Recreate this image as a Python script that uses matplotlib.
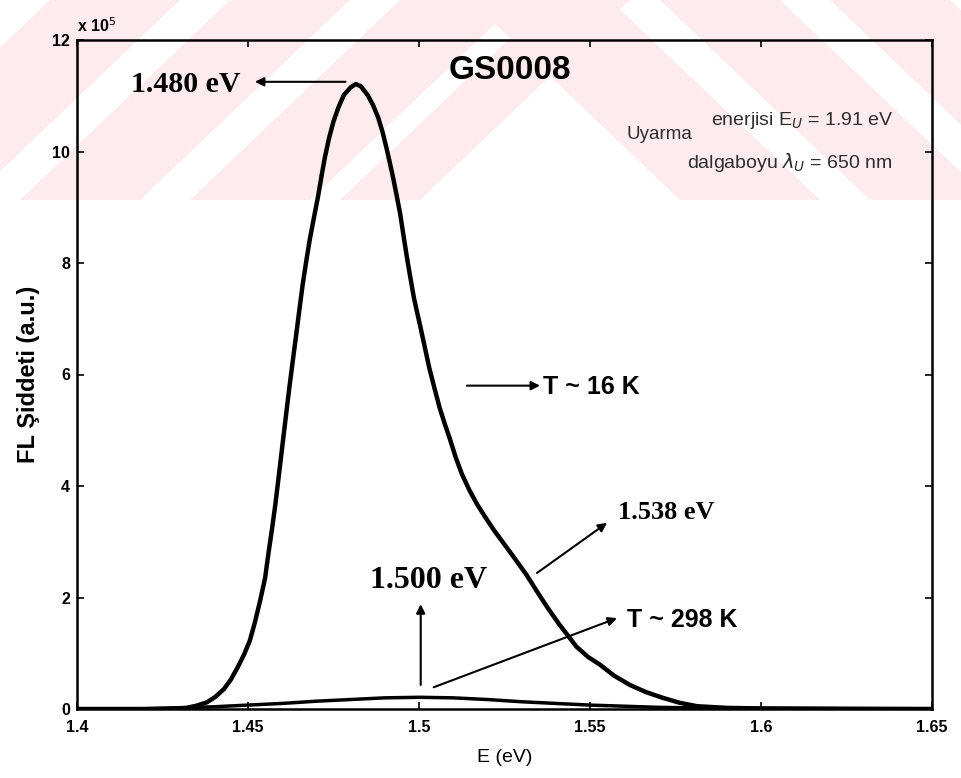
import matplotlib
matplotlib.use("Agg")
import matplotlib.pyplot as plt
from matplotlib.patches import Polygon

# --- data (intensity in units of 1e5) ---
E_16K = [1.400, 1.420, 1.426, 1.432, 1.435, 1.438, 1.4405, 1.443, 1.445,
         1.447, 1.4488, 1.4505, 1.452, 1.4535, 1.455, 1.456, 1.457, 1.458,
         1.459, 1.460, 1.461, 1.462, 1.463, 1.464, 1.465, 1.466, 1.467,
         1.468, 1.4693, 1.4705, 1.4715, 1.4725, 1.4737, 1.475, 1.4765,
         1.478, 1.480, 1.4815, 1.483, 1.485, 1.4865, 1.488, 1.4893, 1.4905,
         1.4915, 1.4925, 1.4935, 1.4945, 1.4955, 1.4965, 1.4975, 1.4985,
         1.4995, 1.5005, 1.5018, 1.503, 1.5045, 1.506, 1.5075, 1.509,
         1.5107, 1.5125, 1.5147, 1.517, 1.5195, 1.522, 1.525, 1.528,
         1.5315, 1.535, 1.538, 1.541, 1.5435, 1.546, 1.5495, 1.5528,
         1.557, 1.5617, 1.5665, 1.5713, 1.5763, 1.5813, 1.590, 1.600, 1.650]
I_16K = [0.0, 0.0, 0.005, 0.02, 0.06, 0.12, 0.22, 0.36, 0.53,
         0.75, 0.97, 1.22, 1.55, 1.93, 2.35, 2.80, 3.22, 3.67,
         4.18, 4.70, 5.21, 5.72, 6.20, 6.67, 7.15, 7.62, 8.02,
         8.40, 8.82, 9.20, 9.56, 9.90, 10.24, 10.54, 10.80,
         11.01, 11.15, 11.21, 11.17, 11.01, 10.84, 10.62, 10.36, 10.06,
         9.79, 9.51, 9.20, 8.88, 8.48, 8.09, 7.73, 7.38,
         7.10, 6.83, 6.46, 6.12, 5.76, 5.41, 5.12, 4.85,
         4.52, 4.22, 3.93, 3.67, 3.43, 3.20, 2.95, 2.70,
         2.40, 2.06, 1.78, 1.52, 1.32, 1.12, 0.93, 0.80,
         0.60, 0.43, 0.30, 0.20, 0.11, 0.05, 0.02, 0.01, 0.0]

E_298K = [1.40, 1.42, 1.43, 1.44, 1.45, 1.46, 1.47, 1.48, 1.49, 1.50,
          1.51, 1.52, 1.53, 1.54, 1.55, 1.56, 1.57, 1.58, 1.60, 1.65]
I_298K = [0.0, 0.005, 0.02, 0.04, 0.07, 0.10, 0.14, 0.17, 0.20, 0.21,
          0.20, 0.17, 0.13, 0.10, 0.07, 0.05, 0.03, 0.02, 0.01, 0.0]

xticks = [1.4, 1.45, 1.5, 1.55, 1.6, 1.65]
xtick_labels = ["1.4", "1.45", "1.5", "1.55", "1.6", "1.65"]
yticks = [0, 2, 4, 6, 8, 10, 12]

serif = "Liberation Serif"
sans = "Liberation Sans"

fig = plt.figure(figsize=(9.62, 7.78), dpi=100)
W, H = 962, 778

# pale pink watermark band at the top (scan artefact)
pink = "#fdebee"
def px(pts):
    return [(x / W, 1 - y / H) for x, y in pts]
for a, b in [(-160, -30), (20, 140), (190, 310), (340, 420)]:
    fig.add_artist(Polygon(px([(a, 200), (b, 200), (b + 210, 0), (a + 210, 0)]),
                           closed=True, color=pink, lw=0, zorder=-5,
                           transform=fig.transFigure))
for a, b in [(470, 610), (660, 780), (830, 950), (1000, 1100)]:
    fig.add_artist(Polygon(px([(a, 0), (b, 0), (b + 210, 200), (a + 210, 200)]),
                           closed=True, color=pink, lw=0, zorder=-5,
                           transform=fig.transFigure))

ax = fig.add_axes([77 / W, 1 - 709 / H, (932 - 77) / W, (709 - 40) / H])
ax.set_facecolor("none")

ax.plot(E_16K, I_16K, color="black", lw=3.2, solid_joinstyle="round")
ax.plot(E_298K, I_298K, color="black", lw=2.5)

ax.set_xlim(1.4, 1.65)
ax.set_ylim(0, 12)
ax.set_xticks(xticks)
ax.set_xticklabels(xtick_labels)
ax.set_yticks(yticks)
ax.tick_params(direction="in", top=True, right=True, length=5, width=1.2,
               labelsize=11.5)
ax.tick_params(axis="x", pad=8)
ax.tick_params(axis="y", pad=5)
for lab in ax.get_xticklabels() + ax.get_yticklabels():
    lab.set_fontfamily(sans)
    lab.set_fontweight("bold")
for s in ax.spines.values():
    s.set_linewidth(1.8)

ax.set_xlabel("E (eV)", fontsize=14, fontfamily=sans, labelpad=10)
ax.set_ylabel("FL Şiddeti (a.u.)", fontsize=17, fontfamily=sans,
              fontweight="bold", labelpad=9)
ax.text(0.0, 1.008, r"x 10$^5$", transform=ax.transAxes, ha="left", va="bottom",
        fontsize=11.5, fontfamily=sans, fontweight="bold")

arrow = dict(arrowstyle="-|>", lw=1.5, color="black", mutation_scale=13,
             shrinkA=0, shrinkB=0)

# annotations
ax.annotate("", xy=(1.452, 11.25), xytext=(1.4785, 11.25), arrowprops=arrow)
ax.text(1.4477, 11.2, "1.480 eV", ha="right", va="center", fontsize=21.5,
        fontfamily=serif, fontweight="bold")
ax.text(1.5266, 11.45, "GS0008", ha="center", va="center", fontsize=24,
        fontfamily=sans, fontweight="bold")

grey = "#2e2e2e"
ax.text(1.5608, 10.30, "Uyarma", ha="left", va="center", fontsize=13.5,
        fontfamily=sans, color=grey)
ax.text(1.6386, 10.55, r"enerjisi E$_U$ = 1.91 eV", ha="right", va="center",
        fontsize=14, fontfamily=sans, color=grey)
ax.text(1.6386, 9.81, r"dalgaboyu $\lambda_U$ = 650 nm", ha="right", va="center",
        fontsize=14, fontfamily=sans, color=grey)

ax.annotate("", xy=(1.5354, 5.8), xytext=(1.514, 5.8), arrowprops=arrow)
ax.text(1.5363, 5.78, "T ~ 16 K", ha="left", va="center", fontsize=18,
        fontfamily=sans, fontweight="bold")

ax.annotate("", xy=(1.555, 3.34), xytext=(1.5345, 2.44), arrowprops=arrow)
ax.text(1.5582, 3.52, "1.538 eV", ha="left", va="center", fontsize=19,
        fontfamily=serif, fontweight="bold")

ax.annotate("", xy=(1.5005, 1.88), xytext=(1.5005, 0.43), arrowprops=arrow)
ax.text(1.5027, 2.31, "1.500 eV", ha="center", va="center", fontsize=23,
        fontfamily=serif, fontweight="bold")

ax.annotate("", xy=(1.5579, 1.63), xytext=(1.5043, 0.39), arrowprops=arrow)
ax.text(1.5608, 1.60, "T ~ 298 K", ha="left", va="center", fontsize=18,
        fontfamily=sans, fontweight="bold")

fig.savefig("out.png", dpi=100)
